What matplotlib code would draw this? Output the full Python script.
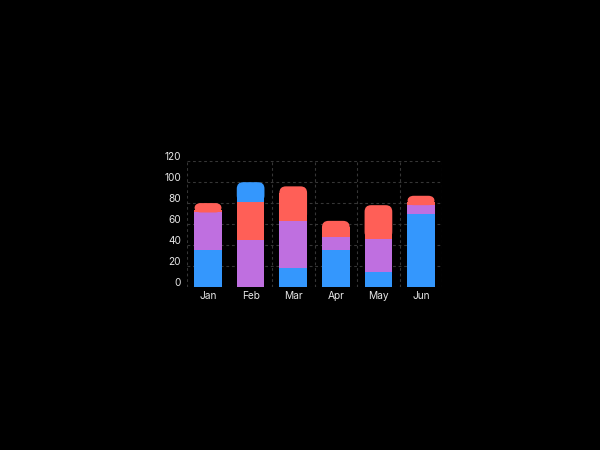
import numpy as np
import matplotlib.pyplot as plt
from matplotlib.patches import FancyBboxPatch
from matplotlib.transforms import ScaledTranslation

# Data
months = ['Jan', 'Feb', 'Mar', 'Apr', 'May', 'Jun']
blue = [35, 19, 18, 35, 14, 70]
purple = [36, 45, 45, 13, 32, 8]
red = [9, 36, 33, 15, 32, 9]
# stacking order per month, bottom to top
stack_order = [
    ['blue', 'purple', 'red'],
    ['purple', 'red', 'blue'],
    ['blue', 'purple', 'red'],
    ['blue', 'purple', 'red'],
    ['blue', 'purple', 'red'],
    ['blue', 'purple', 'red'],
]
y_ticks = [0, 20, 40, 60, 80, 100, 120]

series = {'blue': blue, 'purple': purple, 'red': red}
colors = {'blue': '#3497fd', 'purple': '#bf6fe0', 'red': '#ff5f57'}

plt.rcParams['font.family'] = ['Inter', 'DejaVu Sans']

fig = plt.figure(figsize=(6, 4.5), dpi=100, facecolor='black')
ax = fig.add_axes([0.3112, 0.3629, 0.426, 0.2787])
ax.set_facecolor('black')
ax.set_xlim(-0.5, len(months) - 0.5)
ax.set_ylim(0, 120)

# grid
grid_kw = dict(color='#363636', lw=0.8, ls=(0, (2.5, 2.5)), zorder=0)
for v in y_ticks:
    ax.axhline(v, **grid_kw)
for xv in [-0.5, 1.5, 2.5, 3.5, 4.5, 5.5]:
    ax.axvline(xv, **grid_kw)

# rounding radius in data units
px_x = ax.bbox.width / 6.0
px_y = ax.bbox.height / 120.0
radius_px = 6.5
rx = radius_px / px_x
ry = radius_px / px_y

width = 0.65
x = np.arange(len(months))
for i in range(len(months)):
    bottom = 0
    order = stack_order[i]
    for j, name in enumerate(order):
        h = series[name][i]
        c = colors[name]
        if j < len(order) - 1:
            ax.bar(x[i], h, width=width, bottom=bottom, color=c, lw=0, zorder=2)
        else:
            ax.bar(x[i], h - ry, width=width, bottom=bottom, color=c, lw=0, zorder=2)
            patch = FancyBboxPatch((x[i] - width / 2, bottom), width, h,
                                   boxstyle='round,pad=0,rounding_size=%f' % rx,
                                   mutation_aspect=ry / rx, fc=c, lw=0, zorder=2)
            ax.add_patch(patch)
        bottom += h

ax.set_xticks(x)
ax.set_xticklabels(months)
ax.set_yticks(y_ticks)
ax.tick_params(axis='both', length=0, colors='#e6e6e6', labelsize=7.3)
ax.tick_params(axis='x', pad=3)
ax.tick_params(axis='y', pad=4)
for lab in ax.get_yticklabels():
    lab.set_transform(lab.get_transform() + ScaledTranslation(0, 5 / 100, fig.dpi_scale_trans))

for s in ax.spines.values():
    s.set_visible(False)

fig.savefig('out.png', dpi=100, facecolor='black')
